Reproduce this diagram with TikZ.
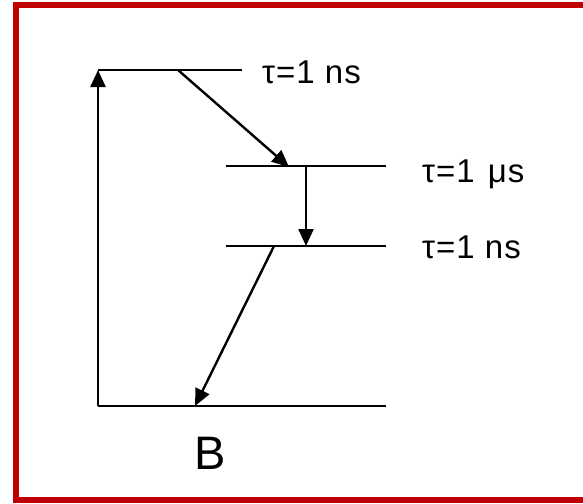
\documentclass[tikz,border=0pt]{standalone}
\usepackage{fontspec}
\setmainfont{Liberation Sans}
\usetikzlibrary{arrows.meta}
\definecolor{frame}{HTML}{C00000}
\tikzset{
  level/.style={line width=2.4pt},
  trans/.style={line width=2.4pt, -{Triangle[length=17pt,width=15pt]}},
  life/.style={anchor=base west, inner sep=0pt,
    font=\fontsize{33}{38}\selectfont\addfontfeatures{LetterSpace=3}},
  state/.style={anchor=base, inner sep=0pt, font=\fontsize{47}{54}\selectfont}
}
\begin{document}
\begin{tikzpicture}[x=1pt, y=-1pt]
\useasboundingbox (0,0) rectangle (583,503);
\fill[white] (0,0) rectangle (583,503);

% --- frame ---
\draw[frame, line width=6pt] (600,5.5) -- (16,5.5) -- (16,500) -- (600,500);

% --- levels ---
\coordinate (t1w) at (98,70);   \coordinate (t1e) at (242,70);
\coordinate (t2w) at (226,166); \coordinate (t2e) at (386,166);
\coordinate (t3w) at (226,246); \coordinate (t3e) at (386,246);
\coordinate (gw)  at (98,406);  \coordinate (ge)  at (386,406);
\draw[level] (t1w) -- (t1e);
\draw[level] (t2w) -- (t2e);
\draw[level] (t3w) -- (t3e);
\draw[level] (gw) -- (ge);

% --- transitions ---
\coordinate (a1s) at (178,70);  \coordinate (a1e) at (289,167);
\coordinate (a2s) at (306,166); \coordinate (a2e) at (306,246);
\coordinate (a3s) at (274,246); \coordinate (a3e) at (195,406);
\draw[trans] (gw) -- (t1w);
\draw[trans] (a1s) -- (a1e);
\draw[trans] (a2s) -- (a2e);
\draw[trans] (a3s) -- (a3e);

% --- labels ---
\node[life] (l1) at (262,83) {τ=1 ns};
\node[life] (l2) at (422,182) {τ=1\hspace{3pt} μs};
\node[life] (l3) at (422,258) {τ=1 ns};
\node[state] (b) at (210,469) {B};
\end{tikzpicture}
\end{document}
